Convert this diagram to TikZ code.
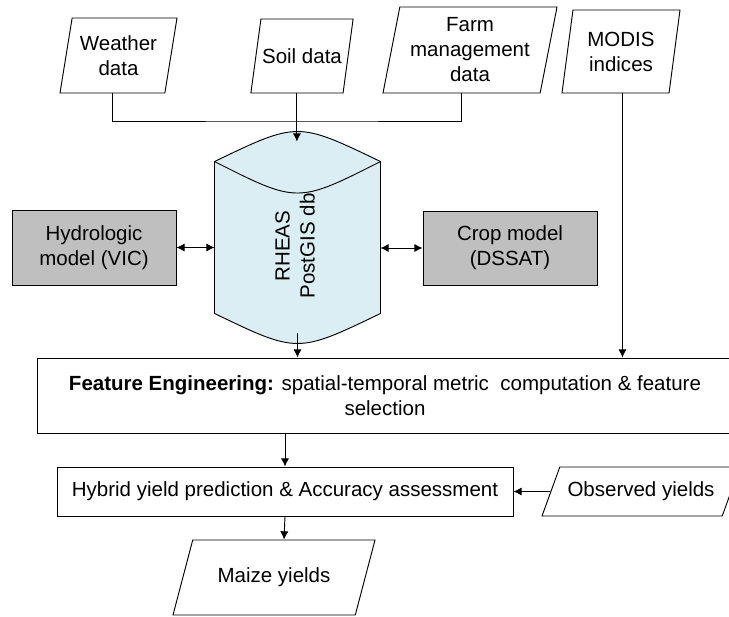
\documentclass[tikz,border=0pt]{standalone}
\usepackage{fontspec}
\setmainfont{Liberation Sans}
\usetikzlibrary{shapes.geometric}
\usetikzlibrary{arrows.meta}
\usetikzlibrary{positioning}
\definecolor{dbblue}{RGB}{218,238,243}
\definecolor{modelgray}{RGB}{191,191,191}
\tikzset{
 datain/.style={draw,trapezium,trapezium stretches body,inner sep=1pt,align=center},
 modelbox/.style={draw,fill=modelgray,align=center,inner sep=1pt},
 stepbox/.style={draw,align=center,inner sep=1pt}
}
\begin{document}
\begin{tikzpicture}[x=0.03cm,y=-0.03cm,line width=0.8pt,
 >={Latex[length=7pt,width=7pt]},
 font=\fontsize{17.5}{21.3}\selectfont]
\useasboundingbox(0,0)rectangle(729,617);

% input data
\node[datain,trapezium left angle=74,trapezium right angle=106,
minimum width=3.51cm,minimum height=2.25cm](weather)at(118.5,55.5){Weather\\data};
\node[datain,trapezium left angle=60,trapezium right angle=120,
minimum width=3.0cm,minimum height=2.22cm](soil)at(302,56){Soil data};
\node[datain,trapezium left angle=75.8,trapezium right angle=104.2,
minimum width=5.22cm,minimum height=2.58cm](farm)at(470,50){Farm\\management\\data};
\node[datain,trapezium left angle=75.3,trapezium right angle=104.7,
minimum width=3.54cm,minimum height=2.49cm](modis)at(621,51.5){MODIS\\indices};

% database drum
\node[minimum width=4.95cm,minimum height=5.73cm,inner sep=0pt](db)at(297.5,237.5){};
\draw[fill=dbblue]([yshift=-6mm]db.north west)..controls([yshift=6mm]db.north)..([yshift=-6mm]db.north east)
--([yshift=6mm]db.south east)..controls([yshift=-6mm]db.south)..([yshift=6mm]db.south west)--cycle;
\draw([yshift=-6mm]db.north west)..controls([yshift=-18.6mm]db.north)..([yshift=-6mm]db.north east);
\node[rotate=90,align=center,inner sep=0pt](dblabel)at(295,246){RHEAS\\PostGIS db};

% models
\node[modelbox,minimum width=4.92cm,minimum height=2.25cm](hydro)at(94,247.5){Hydrologic\\model (VIC)};
\node[modelbox,minimum width=5.22cm,minimum height=2.22cm](crop)at(510,248){Crop model\\(DSSAT)};

% processing steps
\node[stepbox,minimum width=20.88cm,minimum height=2.25cm](feature)at(385,395.5)
{\textbf{Feature Engineering:} spatial-temporal metric~ computation \& feature\\selection};
\node[stepbox,minimum width=13.68cm,minimum height=1.47cm](hybrid)at(285,491.5)
{Hybrid yield prediction \& Accuracy assessment};

\node[datain,trapezium left angle=50.3,trapezium right angle=129.7,
minimum width=5.94cm,minimum height=1.47cm](observed)at(641,491.5){Observed yields};
\node[datain,trapezium left angle=47.4,trapezium right angle=132.6,
minimum width=6.06cm,minimum height=2.25cm](maize)at(274,577.5){Maize yields};

\coordinate(bus)at(297,121);
\draw(weather.bottom side)|-(bus)-|(farm.bottom side);
\draw[->](soil.bottom side)--(soil.bottom side|-db.north);
\draw[<->](hydro.east)--(hydro.east-|db.west);
\draw[<->](crop.west)--(crop.west-|db.east);
\draw[->](db.south)--(db.south|-feature.north);
\draw[->]([xshift=2.1mm]modis.bottom side)--([xshift=2.1mm]modis.bottom side|-feature.north);
\draw[->](hybrid.north|-feature.south)--(hybrid.north);
\draw[->](observed)--(hybrid);
\draw[->](hybrid.south)--(maize.top side);
\end{tikzpicture}
\end{document}
